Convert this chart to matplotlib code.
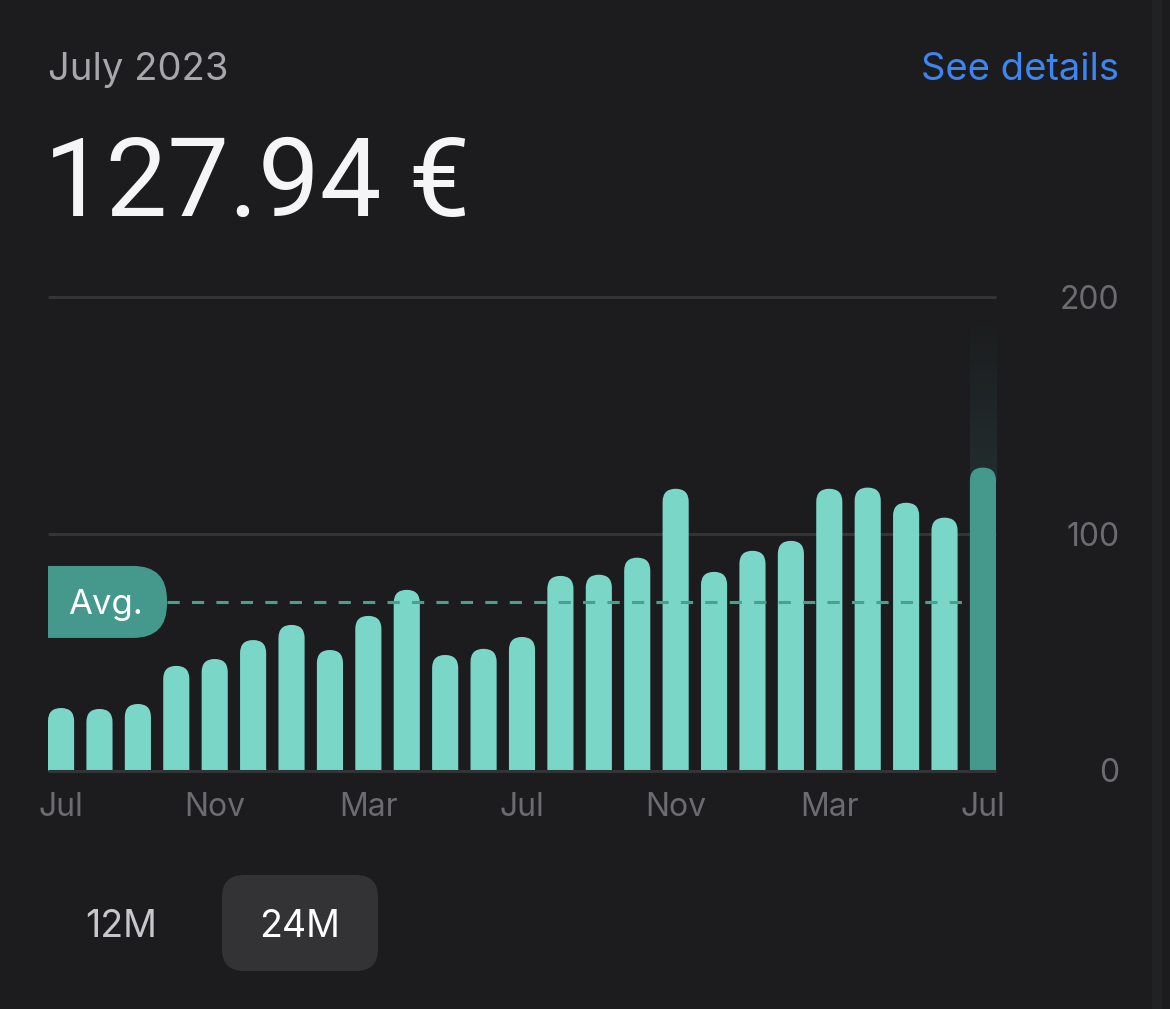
import matplotlib

matplotlib.use("Agg")
from matplotlib import pyplot as plt
from matplotlib.patches import FancyBboxPatch, Rectangle
from matplotlib.transforms import Bbox, IdentityTransform
import numpy as np

# monthly spend, Jul 2021 .. Jul 2023
months = [
    "Jul", "Aug", "Sep", "Oct", "Nov", "Dec", "Jan", "Feb", "Mar", "Apr", "May", "Jun",
    "Jul", "Aug", "Sep", "Oct", "Nov", "Dec", "Jan", "Feb", "Mar", "Apr", "May", "Jun",
    "Jul",
]
spend = [
    26.4, 26.0, 28.1, 44.2, 47.1, 55.1, 61.5, 50.9, 65.3, 76.3, 48.8, 51.4,
    56.4, 82.2, 82.7, 89.9, 119.0, 83.9, 92.8, 97.0, 119.0, 119.5, 113.1, 106.8,
    127.94,
]
avg_value = 71.2
tick_idx = [0, 4, 8, 12, 16, 20, 24]
tick_labels = ["Jul", "Nov", "Mar", "Jul", "Nov", "Mar", "Jul"]
y_ticks = [0, 100, 200]
y_tick_labels = ["0", "100", "200"]
header_month = "July 2023"
header_value = "127.94 €"
header_link = "See details"
range_labels = ["12M", "24M"]

BG = "#1c1c1e"
BAR = "#7ad7c8"
BAR_CUR = "#45998c"
GRID = "#333436"
TICK = "#6c6c70"

plt.rcParams["font.family"] = ["Inter", "DejaVu Sans"]
BIG_FONT = ["Roboto", "DejaVu Sans"]

W, H = 1170, 1009
fig = plt.figure(figsize=(W / 100, H / 100), dpi=100)
fig.patch.set_facecolor(BG)


def fx(x):
    return x / W


def fy(y):
    # top-down pixel -> figure fraction
    return 1 - y / H


# right edge strip of the card
fig.add_artist(Rectangle((fx(1152), 0), fx(10), 1, transform=fig.transFigure,
                         fc="#212224", ec="none"))

# header
fig.text(fx(48), fy(80), header_month, fontsize=27.5, color="#a7a7ab", va="baseline")
fig.text(fx(1119), fy(80), header_link, fontsize=27.5, color="#3d85f0",
         va="baseline", ha="right")
fig.text(fx(44), fy(216), header_value, fontsize=79, color="#f5f5f7", va="baseline",
         family=BIG_FONT)

# chart
ax = fig.add_axes([fx(48), fy(770.5), fx(948), 473.5 / H])
bar_w = 0.68
n = len(spend)
ax.set_xlim(-bar_w / 2, n - 1 + bar_w / 2)
ax.set_ylim(0, 200)
ax.set_facecolor("none")
for s in ax.spines.values():
    s.set_visible(False)

px_x = 948 / (n - 1 + bar_w)
px_y = 473.5 / 200
r_y = (bar_w / 2) * px_x / px_y  # rounding radius in data y units

for yv in y_ticks:
    ax.axhline(yv, color=GRID, lw=2.2, zorder=1 if yv > 0 else 4, clip_on=False,
               solid_capstyle="butt")

# faint glow column above current month
grad = np.zeros((100, 1, 4))
grad[:, 0, :3] = matplotlib.colors.to_rgb(BAR_CUR)
grad[:, 0, 3] = np.linspace(0.14, 0.0, 100)
ax.imshow(grad, extent=(n - 1 - bar_w / 2, n - 1 + bar_w / 2, spend[-1] - r_y, 194),
          origin="lower", aspect="auto", zorder=1.5, interpolation="bilinear")
ax.set_xlim(-bar_w / 2, n - 1 + bar_w / 2)
ax.set_ylim(0, 200)

for i, v in enumerate(spend):
    color = BAR_CUR if i == n - 1 else BAR
    p = FancyBboxPatch((i - bar_w / 2, -r_y), bar_w, v + r_y,
                       boxstyle=f"round,pad=0,rounding_size={bar_w / 2}",
                       mutation_aspect=r_y / (bar_w / 2),
                       fc=color, ec="none", zorder=2)
    ax.add_patch(p)

ax.set_xticks(tick_idx, tick_labels)
ax.tick_params(axis="x", length=0, pad=15.5, labelsize=23, labelcolor=TICK)
ax.yaxis.tick_right()
ax.set_yticks(y_ticks, y_tick_labels)
ax.tick_params(axis="y", length=0, pad=89, labelsize=23, labelcolor=TICK)
for lbl in ax.get_yticklabels():
    lbl.set_ha("right")

# average marker
_, yc = ax.transData.transform((0, avg_value))
pill = FancyBboxPatch((10, yc - 36), 157, 72, boxstyle="round,pad=0,rounding_size=34",
                      transform=IdentityTransform(), fc=BAR_CUR, ec="none", zorder=5)
pill.set_clip_box(Bbox.from_extents(48, 0, W, H))
fig.add_artist(pill)
fig.text(fx(68), (yc - 12) / H, "Avg.", fontsize=25, color="white", va="baseline",
         zorder=6)
x_start = ax.transData.inverted().transform((167, yc))[0]
ax.plot([x_start, n - 1 - bar_w / 2], [avg_value, avg_value], color="#4a9f91",
        lw=2.2, linestyle=(0, (4, 4)), zorder=3)

# range selector
sel = FancyBboxPatch((222, H - 971), 156, 96, boxstyle="round,pad=0,rounding_size=22",
                     transform=IdentityTransform(), fc="#333335", ec="none")
fig.add_artist(sel)
fig.text(fx(121), fy(937), range_labels[0], fontsize=27, color="#c7c7cb",
         ha="center", va="baseline")
fig.text(fx(300), fy(937), range_labels[1], fontsize=27, color="white",
         ha="center", va="baseline")

fig.savefig("out.png", dpi=100, facecolor=BG)
